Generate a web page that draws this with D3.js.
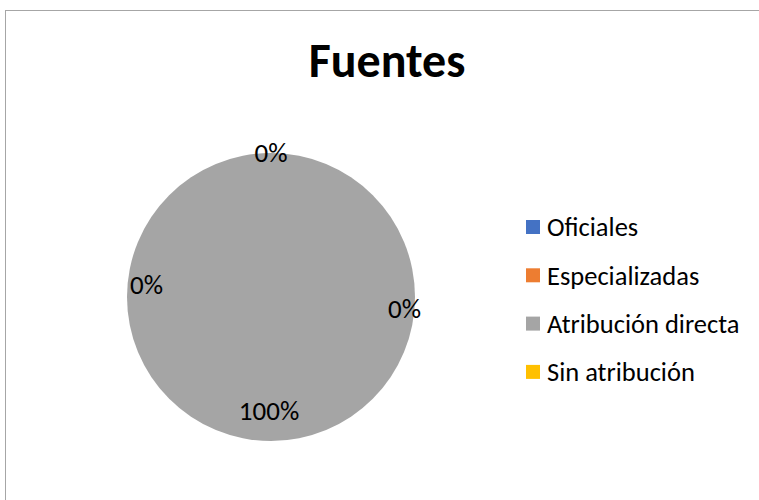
<!DOCTYPE html>
<html>
<head>
<meta charset="utf-8">
<script src="https://cdn.jsdelivr.net/npm/d3@7"></script>
<style>
  body { margin: 0; background: #fff; }
  text { font-family: Carlito, Calibri, Lato, "Open Sans", sans-serif; }
</style>
</head>
<body>
<svg width="759" height="500"></svg>
<script>
// Data
var categories = ["Oficiales", "Especializadas", "Atribución directa", "Sin atribución"];
var values = [0, 0, 1, 0];
var colors = ["#4472c4", "#ed7d31", "#a5a5a5", "#ffc000"];

var svg = d3.select("svg"),
    width = +svg.attr("width"),
    height = +svg.attr("height");

// chart frame (runs off the right and bottom)
svg.append("rect")
    .attr("x", 5.5).attr("y", 10.5)
    .attr("width", 760).attr("height", 500)
    .attr("fill", "#fff")
    .attr("stroke", "#a6a6a6")
    .attr("stroke-width", 1);

svg.append("text")
    .attr("x", 387).attr("y", 77)
    .attr("text-anchor", "middle")
    .style("font-size", "48px")
    .style("font-weight", "bold")
    .text("Fuentes");

var cx = 271, cy = 297, r = 144;
var total = d3.sum(values);

var pie = d3.pie().sort(null).value(function(d) { return d; });
var arc = d3.arc().innerRadius(0).outerRadius(r);
var arcs = pie(values);

var g = svg.append("g").attr("transform", "translate(" + cx + "," + cy + ")");

g.selectAll("path")
    .data(arcs)
    .enter()
    .append("path")
    .attr("d", arc)
    .attr("fill", function(d, i) { return colors[i]; });

// Excel nudges the empty slice labels apart; angle (deg) and radius for each
var labelSpot = [[0, 144], [-84.5, 125], [95, 134], [181, 114]];
// order of labels: Oficiales top, Especializadas left... the 100% one at bottom
var labelOrder = [0, 1, 3, 2];

g.selectAll("text.lbl")
    .data(arcs)
    .enter()
    .append("text")
    .attr("class", "lbl")
    .attr("transform", function(d, i) {
        var s = labelSpot[labelOrder[i]];
        var a = s[0] * Math.PI / 180;
        return "translate(" + (Math.sin(a) * s[1]) + "," + (-Math.cos(a) * s[1]) + ")";
    })
    .attr("text-anchor", "middle")
    .attr("dy", "0.35em")
    .style("font-size", "27px")
    .attr("fill", "#000")
    .text(function(d) { return Math.round(d.value / total * 100) + "%"; });

// legend
var legend = svg.append("g").attr("transform", "translate(526,227)");
var item = legend.selectAll("g")
    .data(categories)
    .enter()
    .append("g")
    .attr("transform", function(d, i) { return "translate(0," + (i * 48.3) + ")"; });

item.append("rect")
    .attr("x", 0).attr("y", -7)
    .attr("width", 14).attr("height", 14)
    .attr("fill", function(d, i) { return colors[i]; });

item.append("text")
    .attr("x", 21)
    .attr("dy", "0.35em")
    .style("font-size", "26.5px")
    .text(function(d) { return d; });
</script>
</body>
</html>
